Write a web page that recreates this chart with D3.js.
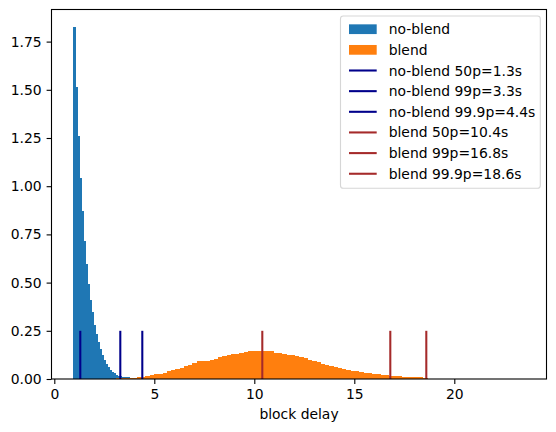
<!DOCTYPE html>
<html><head><meta charset="utf-8">
<script src="https://cdn.jsdelivr.net/npm/d3@7"></script>
<style>body{margin:0;background:#fff} svg{display:block} text{font-family:"DejaVu Sans",sans-serif;fill:#000}</style>
</head><body><svg id="c" width="556" height="432"></svg>
<script>
// histogram bins (density)
const noBlendStart = 0.95, noBlendWidth = 0.1;
const noBlend = [1.826,1.515,1.260,1.043,0.870,0.717,0.596,0.493,0.410,0.346,
  0.282,0.233,0.192,0.155,0.125,0.096,0.077,0.060,0.047,0.036,
  0.030,0.022,0.017,0.014,0.012,0.012,0.010,0.008,0.007,0.006,
  0.005,0.004,0.004,0.003,0.003,0.002,0.002,0.002,0.001,0.001];
const blendStart = 2.85, blendWidth = 0.2136;
const blend = [0.002,0.003,0.004,0.005,0.006,0.007,0.008,0.010,0.015,0.021,
  0.026,0.028,0.033,0.040,0.045,0.052,0.057,0.067,0.073,0.085,
  0.093,0.093,0.094,0.099,0.104,0.114,0.121,0.126,0.130,0.130,
  0.135,0.140,0.145,0.145,0.145,0.145,0.145,0.145,0.135,0.135,
  0.130,0.124,0.124,0.119,0.112,0.107,0.099,0.093,0.088,0.078,
  0.073,0.067,0.062,0.057,0.052,0.047,0.044,0.042,0.038,0.033,
  0.030,0.026,0.024,0.021,0.019,0.016,0.015,0.013,0.010,0.010,
  0.009,0.009,0.008,0.007,0.002,0.001,0.001,0.001];
// percentile markers
const noBlendPct = [1.3, 3.3, 4.4];
const blendPct = [10.4, 16.8, 18.6];
const pctNames = ["50p", "99p", "99.9p"];
const markerHeight = 0.25;
const xTicks = [0, 5, 10, 15, 20];
const yTicks = [0, 0.25, 0.5, 0.75, 1.0, 1.25, 1.5, 1.75];
const xDomain = [-0.14, 24.61];
const yDomain = [0, 1.9165];

const C_BLUE = "#1f77b4", C_ORANGE = "#ff7f0e", C_NAVY = "#00008b", C_BROWN = "#a52a2a";
const L = 51.5, R = 546.5, T = 9.5, B = 379;
const svg = d3.select("#c");
const x = d3.scaleLinear().domain(xDomain).range([L, R]);
const y = d3.scaleLinear().domain(yDomain).range([B, T]);

function drawHist(vals, start, w, color) {
  svg.append("g").attr("shape-rendering", "crispEdges").selectAll("rect").data(vals).join("rect")
    .attr("x", (d, i) => x(start + i * w))
    .attr("width", (d, i) => x(start + (i + 1) * w) - x(start + i * w) + 0.2)
    .attr("y", d => y(d))
    .attr("height", d => B - y(d))
    .attr("fill", color);
}
drawHist(noBlend, noBlendStart, noBlendWidth, C_BLUE);
drawHist(blend, blendStart, blendWidth, C_ORANGE);

function drawMarkers(vals, color) {
  svg.append("g").selectAll("line").data(vals).join("line")
    .attr("x1", d => x(d)).attr("x2", d => x(d))
    .attr("y1", y(0)).attr("y2", y(markerHeight))
    .attr("stroke", color).attr("stroke-width", 2.08);
}
drawMarkers(noBlendPct, C_NAVY);
drawMarkers(blendPct, C_BROWN);

// axes
const fs = 13.9;
const xa = svg.append("g").attr("transform", `translate(0,${B})`)
  .call(d3.axisBottom(x).tickValues(xTicks).tickSize(4.9).tickPadding(4.9).tickFormat(d3.format("d")));
const ya = svg.append("g").attr("transform", `translate(${L},0)`)
  .call(d3.axisLeft(y).tickValues(yTicks).tickSize(4.9).tickPadding(4.9).tickFormat(d3.format(".2f")));
[xa, ya].forEach(a => {
  a.select(".domain").remove();
  a.selectAll("line").attr("stroke", "#000").attr("stroke-width", 1.1);
  a.selectAll("text").attr("font-size", fs).attr("font-family", "DejaVu Sans");
});
// spines
svg.append("rect").attr("x", L).attr("y", T).attr("width", R - L).attr("height", B - T)
  .attr("fill", "none").attr("stroke", "#000").attr("stroke-width", 1.1);

svg.append("text").attr("x", (L + R) / 2).attr("y", 418.5).attr("text-anchor", "middle")
  .attr("font-size", fs).text("block delay");

// legend
const lg = svg.append("g");
lg.append("rect").attr("x", 340.5).attr("y", 16).attr("width", 199.8).attr("height", 172.3)
  .attr("rx", 2.8).attr("fill", "#fff").attr("fill-opacity", 0.8)
  .attr("stroke", "#ccc").attr("stroke-opacity", 0.8).attr("stroke-width", 1.1);
const entries = [
  {type: "patch", color: C_BLUE, label: "no-blend"},
  {type: "patch", color: C_ORANGE, label: "blend"},
  ...noBlendPct.map((v, i) => ({type: "line", color: C_NAVY, label: `no-blend ${pctNames[i]}=${v.toFixed(1)}s`})),
  ...blendPct.map((v, i) => ({type: "line", color: C_BROWN, label: `blend ${pctNames[i]}=${v.toFixed(1)}s`}))
];
const row = 20.65, y0 = 29.2, hx0 = 349, hx1 = 376.7;
const eg = lg.selectAll("g.e").data(entries).join("g").attr("class", "e")
  .attr("transform", (d, i) => `translate(0,${y0 + i * row})`);
eg.filter(d => d.type === "patch").append("rect")
  .attr("x", hx0).attr("y", -4.86).attr("width", hx1 - hx0).attr("height", 9.73).attr("fill", d => d.color);
eg.filter(d => d.type === "line").append("line")
  .attr("x1", hx0).attr("x2", hx1).attr("y1", 0).attr("y2", 0)
  .attr("stroke", d => d.color).attr("stroke-width", 2.08);
eg.append("text").attr("x", 388.7).attr("y", 0).attr("dy", "0.36em").attr("font-size", fs).text(d => d.label);
</script>
</body></html>
